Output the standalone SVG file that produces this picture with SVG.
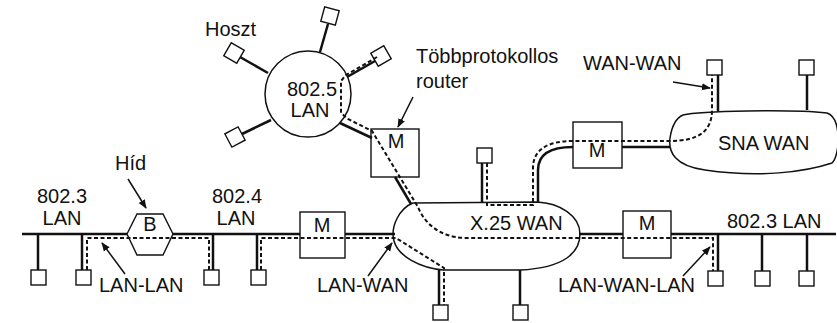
<svg xmlns="http://www.w3.org/2000/svg" width="837" height="323" viewBox="0 0 837 323">
<style>
text{font-family:"Liberation Sans",Arial,sans-serif;font-size:20px;fill:#111}
.m{text-anchor:middle}
.ln{stroke:#111;stroke-width:2.5;fill:none}
.th{stroke:#111;stroke-width:1.5;fill:none}
.bx{stroke:#111;stroke-width:1.4;fill:#fff}
.ds{stroke:#111;stroke-width:2;fill:none;stroke-dasharray:4 2.5}
.ar{stroke:#111;stroke-width:1.5;fill:none;marker-end:url(#ah)}
</style>
<defs>
<marker id="ah" viewBox="0 0 10 10" refX="9" refY="5" markerWidth="9" markerHeight="9" markerUnits="userSpaceOnUse" orient="auto">
<path d="M0,1 L10,5 L0,9 Z" fill="#111"/>
</marker>
</defs>
<rect width="837" height="323" fill="#fff"/>

<g id="lan8025">
<line class="ln" x1="320" y1="52" x2="328" y2="24"/>
<line class="ln" x1="268" y1="73" x2="240" y2="57"/>
<line class="ln" x1="347" y1="77" x2="375" y2="61"/>
<line class="ln" x1="271" y1="120" x2="242" y2="134"/>
<line class="ln" x1="340" y1="123" x2="372" y2="138"/>
<circle cx="308" cy="94" r="43" class="th" fill="#fff"/>
<text class="m" x="312" y="96">802.5</text>
<text class="m" x="310" y="117">LAN</text>
</g>
<g id="host-top"><rect class="bx" x="-7.5" y="-7.5" width="15" height="15" transform="translate(330,16) rotate(15)"/></g>
<g id="host-ul"><rect class="bx" x="-7.5" y="-7.5" width="15" height="15" transform="translate(234,53) rotate(30)"/></g>
<g id="host-ur"><rect class="bx" x="-7.5" y="-7.5" width="15" height="15" transform="translate(381,56) rotate(-30)"/></g>
<g id="host-ll"><rect class="bx" x="-7.5" y="-7.5" width="15" height="15" transform="translate(235,137) rotate(-28)"/></g>

<g id="x25">
<path class="th" fill="#fff" d="M413,203 L537,202 C560,203 580,216 580,234 C580,252 565,268 520,270 L443,270 C420,268 398,256 394,241 C390,226 400,208 413,203 Z"/>
<text x="470" y="230">X.25 WAN</text>
</g>

<g id="sna">
<path class="th" fill="#fff" d="M683,115 C700,111 790,109 827,113 C842,118 840,156 832,163 C805,172 760,178 705,170 C675,166 668,152 670,138 C672,125 676,118 683,115 Z"/>
<text x="718" y="150">SNA WAN</text>
</g>

<g id="connectors">
<!-- main LAN line -->
<line class="ln" x1="22" y1="234" x2="127" y2="234"/>
<line class="ln" x1="173" y1="234" x2="300" y2="234"/>
<line class="ln" x1="345" y1="234" x2="395" y2="234"/>
<line class="ln" x1="579" y1="234" x2="623" y2="234"/>
<line class="ln" x1="671" y1="234" x2="836" y2="234"/>
<!-- LAN host drops -->
<line class="ln" x1="38" y1="234" x2="38" y2="270"/>
<line class="ln" x1="82" y1="234" x2="82" y2="270"/>
<line class="ln" x1="213" y1="234" x2="213" y2="270"/>
<line class="ln" x1="257" y1="234" x2="257" y2="270"/>
<line class="ln" x1="718" y1="234" x2="718" y2="271"/>
<line class="ln" x1="762" y1="234" x2="762" y2="271"/>
<line class="ln" x1="807" y1="234" x2="807" y2="271"/>
<!-- X.25 hosts -->
<line class="ln" x1="482" y1="163" x2="482" y2="203"/>
<line class="ln" x1="439" y1="270" x2="439" y2="305"/>
<line class="ln" x1="520" y1="270" x2="520" y2="305"/>
<!-- router to X.25 -->
<line class="ln" x1="395" y1="177" x2="411" y2="204"/>
<!-- X.25 to M2 -->
<path class="ln" d="M538,203 L538,170 C538,155 550,147 573,147"/>
<line class="ln" x1="622" y1="147" x2="670" y2="147"/>
<!-- SNA hosts -->
<line class="ln" x1="718" y1="75" x2="718" y2="111"/>
<line class="ln" x1="807" y1="75" x2="807" y2="110"/>

<!-- dashed paths -->
<path class="ds" d="M87,270 L87,238 L209,238 L209,270"/>
<path class="ds" d="M261,270 L261,238 L396,238 L444,268 L444,305"/>
<path class="ds" d="M377,57 L346,75 L341,81 L341,113 L348,119 L372,131 L418,207 C424,222 438,237 465,238 L713,238 L713,271"/>
<path class="ds" d="M487,163 L487,205 L533,205 L533,168 C533,150 547,141 573,141 L670,141 C700,141 712,130 712,110 L712,75"/>

<!-- label arrows -->
<line class="ar" x1="128" y1="179" x2="146" y2="208"/>
<line class="ar" x1="125" y1="274" x2="102" y2="243"/>
<line class="ar" x1="368" y1="276" x2="392" y2="243"/>
<line class="ar" x1="683" y1="276" x2="710" y2="247"/>
<line class="ar" x1="673" y1="82" x2="710" y2="88"/>
<line class="ar" x1="413" y1="97" x2="398" y2="127"/>
</g>

<g id="bridge">
<polygon class="bx" fill="none" style="fill:none" points="127,234 137,214 163,214 173,234 163,255 137,255"/>
<text class="m" x="150" y="231">B</text>
</g>
<g id="router1">
<rect class="bx" style="fill:none" x="371" y="129" width="48" height="48"/>
<text class="m" x="396" y="148">M</text>
</g>
<g id="router-lan">
<rect class="bx" style="fill:none" x="300" y="212" width="45" height="46"/>
<text class="m" x="322" y="232">M</text>
</g>
<g id="router-wan">
<rect class="bx" style="fill:none" x="573" y="122" width="49" height="46"/>
<text class="m" x="597" y="157">M</text>
</g>
<g id="router-lan2">
<rect class="bx" style="fill:none" x="623" y="211" width="48" height="47"/>
<text class="m" x="647" y="230">M</text>
</g>

<g id="hosts">
<rect class="bx" x="31" y="270" width="15" height="15"/>
<rect class="bx" x="76" y="270" width="15" height="15"/>
<rect class="bx" x="204" y="270" width="15" height="15"/>
<rect class="bx" x="251" y="270" width="15" height="15"/>
<rect class="bx" x="708" y="271" width="15" height="15"/>
<rect class="bx" x="755" y="271" width="15" height="15"/>
<rect class="bx" x="799" y="271" width="15" height="15"/>
<rect class="bx" x="477" y="148" width="15" height="15"/>
<rect class="bx" x="433" y="305" width="15" height="15"/>
<rect class="bx" x="513" y="305" width="15" height="15"/>
<rect class="bx" x="707" y="60" width="15" height="15"/>
<rect class="bx" x="799" y="60" width="15" height="15"/>
</g>

<g id="labels">
<text x="205" y="36">Hoszt</text>
<text x="416" y="63">Többprotokollos</text>
<text x="416" y="88">router</text>
<text x="583" y="70">WAN-WAN</text>
<text x="115" y="170">Híd</text>
<text class="m" x="62" y="203">802.3</text>
<text class="m" x="62" y="225">LAN</text>
<text class="m" x="237" y="203">802.4</text>
<text class="m" x="236" y="225">LAN</text>
<text x="727" y="228">802.3 LAN</text>
<text x="99" y="292">LAN-LAN</text>
<text x="317" y="292">LAN-WAN</text>
<text x="558" y="292">LAN-WAN-LAN</text>
</g>
</svg>
